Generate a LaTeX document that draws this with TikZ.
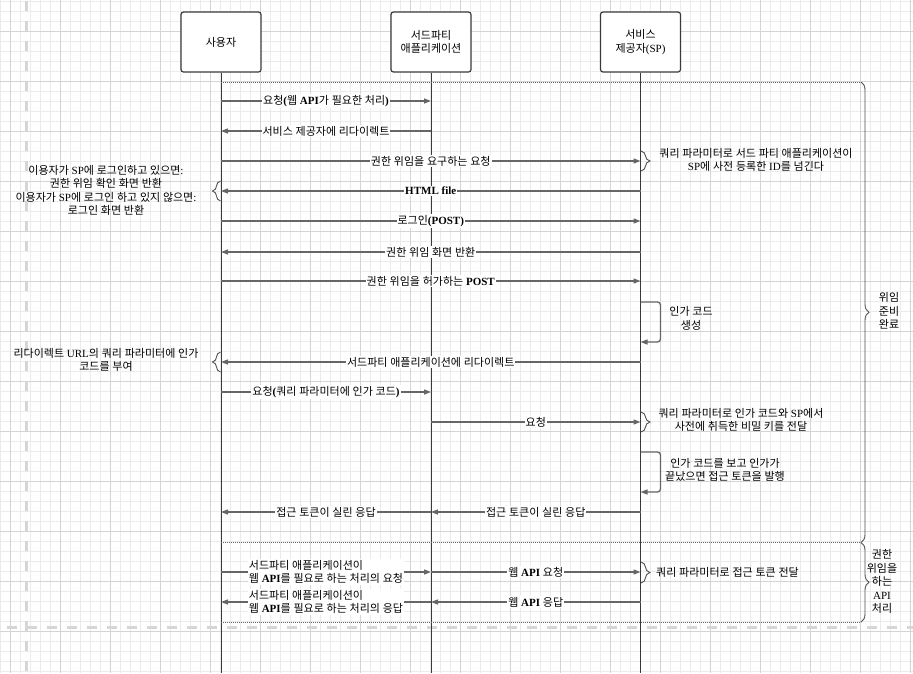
\documentclass[tikz,border=0pt]{standalone}
\usepackage{fontspec}
\setmainfont{Liberation Serif}
\newfontfamily\kr[Scale=1.0,BoldFont={Noto Sans CJK KR}]{Noto Sans CJK KR}
\usetikzlibrary{arrows.meta,decorations.pathreplacing}
\XeTeXinterchartokenstate=1
\newXeTeXintercharclass\KRclass
\newcount\hc
\hc="AC00
\loop \XeTeXcharclass\hc=\KRclass \advance\hc by 1 \ifnum\hc<"D7A4 \repeat
\XeTeXinterchartoks 0 \KRclass = {\begingroup\kr}
\XeTeXinterchartoks 4095 \KRclass = {\begingroup\kr}
\XeTeXinterchartoks \KRclass 0 = {\endgroup}
\XeTeXinterchartoks \KRclass 4095 = {\endgroup}
\definecolor{gminc}{HTML}{EBEBEB}
\definecolor{gmajc}{HTML}{D4D4D4}
\definecolor{pbc}{HTML}{D6D6D6}
\definecolor{linec}{HTML}{3A3A3A}
\definecolor{msgc}{HTML}{666666}
\definecolor{brc}{HTML}{505050}
\tikzset{
  gmin/.style={draw=gminc, line width=0.7pt},
  gmaj/.style={draw=gmajc, line width=0.9pt},
  pbreak/.style={draw=pbc, line width=3pt, dash pattern=on 10pt off 10pt},
  actor/.style={draw=linec, line width=1.2pt, rounded corners=2.5pt, fill=white,
    minimum width=80pt, minimum height=60pt, align=center, inner sep=1pt},
  life/.style={draw=linec, line width=0.9pt},
  msg/.style={draw=msgc, line width=1.3pt, -{Triangle[length=7pt,width=5pt]}},
  lbl/.style={fill=white, inner sep=1pt, align=center,
    font=\fontsize{11}{13.5}\selectfont\bfseries},
  note/.style={align=center, inner sep=0pt, font=\fontsize{11}{13.5}\selectfont},
  brc/.style={draw=brc, line width=0.9pt, decorate, decoration={brace, amplitude=#1}},
  sep/.style={draw=msgc, line width=0.8pt, dash pattern=on 1pt off 1pt},
}
\begin{document}
\begin{tikzpicture}[x=1pt,y=-1pt,font=\fontsize{11}{13.5}\selectfont]
\useasboundingbox[fill=white] (0,0) rectangle (913,673);
% grid
\foreach \x in {0,10,...,910} \draw[gmin] (\x,0) -- (\x,673);
\foreach \y in {1,11,...,671} \draw[gmin] (0,\y) -- (913,\y);
\foreach \x in {10,60,...,910} \draw[gmaj] (\x,0) -- (\x,673);
\foreach \y in {31,81,...,631} \draw[gmaj] (0,\y) -- (913,\y);
% page breaks
\draw[pbreak] (26.5,1) -- (26.5,673);
\draw[pbreak] (7,627) -- (913,627);
% actors
\node[actor] (u) at (221,42) {사용자};
\node[actor] (t) at (431,42) {서드파티\\애플리케이션};
\node[actor] (s) at (640.5,42) {서비스\\제공자(SP)};
\coordinate (ue) at (221,673);
\coordinate (te) at (431,673);
\coordinate (se) at (640.5,673);
\draw[life] (u) -- (ue);
\draw[life] (t) -- (te);
\draw[life] (s) -- (se);
% separators and group braces
\coordinate (b1t) at (861,82);
\coordinate (b1b) at (861,542.5);
\coordinate (b2b) at (861,622);
\draw[sep] (u.south |- 0,82) -- (b1t);
\draw[sep] (u.south |- 0,542.5) -- (b1b);
\draw[sep] (u.south |- 0,622) -- (b2b);
\draw[brc=8pt] (b1t) -- (b1b);
\draw[brc=8pt] (b1b) -- (b2b);
\node[note] (g1) at (889,311) {위임\\준비\\완료};
\node[note] (g2) at (882,581.5) {권한\\위임을\\하는\\API\\처리};
% messages
\draw[msg] (u.south |- 0,101) -- node[lbl] (m1) {요청(웹 API가 필요한 처리)} (t.south |- 0,101);
\draw[msg] (t.south |- 0,131) -- node[lbl] (m2) {서비스 제공자에 리다이렉트} (u.south |- 0,131);
\draw[msg] (u.south |- 0,161) -- node[lbl] (m3) {권한 위임을 요구하는 요청} (s.south |- 0,161);
\draw[msg] (s.south |- 0,191) -- node[lbl] (m4) {HTML file} (u.south |- 0,191);
\draw[msg] (u.south |- 0,221) -- node[lbl] (m5) {로그인(POST)} (s.south |- 0,221);
\draw[msg] (s.south |- 0,252) -- node[lbl] (m6) {권한 위임 화면 반환} (u.south |- 0,252);
\draw[msg] (u.south |- 0,281) -- node[lbl] (m7) {권한 위임을 허가하는 POST} (s.south |- 0,281);
\draw[msg, rounded corners=3pt] (s.south |- 0,302) -- ++(20,0) -- ++(0,40) -- ++(-20,0);
\node[note] (n8) at (691,318.5) {인가 코드\\생성};
\draw[msg] (s.south |- 0,362) -- node[lbl] (m9) {서드파티 애플리케이션에 리다이렉트} (u.south |- 0,362);
\draw[msg] (u.south |- 0,392) -- node[lbl] (m10) {요청(쿼리 파라미터에 인가 코드)} (t.south |- 0,392);
\draw[msg] (t.south |- 0,422) -- node[lbl] (m11) {요청} (s.south |- 0,422);
\draw[msg, rounded corners=3pt] (s.south |- 0,452) -- ++(20,0) -- ++(0,40) -- ++(-20,0);
\node[note] (n12) at (725,470) {인가 코드를 보고 인가가\\끝났으면 접근 토큰을 발행};
\draw[msg] (s.south |- 0,512) -- node[lbl] (m13a) {접근 토큰이 실린 응답} (t.south |- 0,512);
\draw[msg] (t.south |- 0,512) -- node[lbl] (m13b) {접근 토큰이 실린 응답} (u.south |- 0,512);
\draw[msg] (u.south |- 0,572) -- node[lbl, align=left] (m14a) {서드파티 애플리케이션이\\웹 API를 필요로 하는 처리의 요청} (t.south |- 0,572);
\draw[msg] (t.south |- 0,572) -- node[lbl] (m14b) {웹 API 요청} (s.south |- 0,572);
\draw[msg] (t.south |- 0,602) -- node[lbl, align=left] (m15a) {서드파티 애플리케이션이\\웹 API를 필요로 하는 처리의 응답} (u.south |- 0,602);
\draw[msg] (s.south |- 0,602) -- node[lbl] (m15b) {웹 API 응답} (t.south |- 0,602);
% note braces
\draw[brc=9pt] (641,151) -- (641,171);
\node[note] (r1) at (756,160) {쿼리 파라미터로 서드 파티 애플리케이션이\\SP에 사전 등록한 ID를 넘긴다};
\draw[brc=9pt] (641,412) -- (641,432);
\node[note] (r3) at (741,420) {쿼리 파라미터로 인가 코드와 SP에서\\사전에 취득한 비밀 키를 전달};
\draw[brc=9pt] (641,562) -- (641,583);
\node[note, anchor=west] (r4) at (656,572) {쿼리 파라미터로 접근 토큰 전달};
\draw[brc=8pt] (220.5,201) -- (220.5,181);
\node[note] (l1) at (106,190.5) {이용자가 SP에 로그인하고 있으면:\\권한 위임 확인 화면 반환\\이용자가 SP에 로그인 하고 있지 않으면:\\로그인 화면 반환};
\draw[brc=8pt] (220.5,372) -- (220.5,352);
\node[note] (l2) at (106,360) {리다이렉트 URL의 쿼리 파라미터에 인가\\코드를 부여};
\end{tikzpicture}
\end{document}
